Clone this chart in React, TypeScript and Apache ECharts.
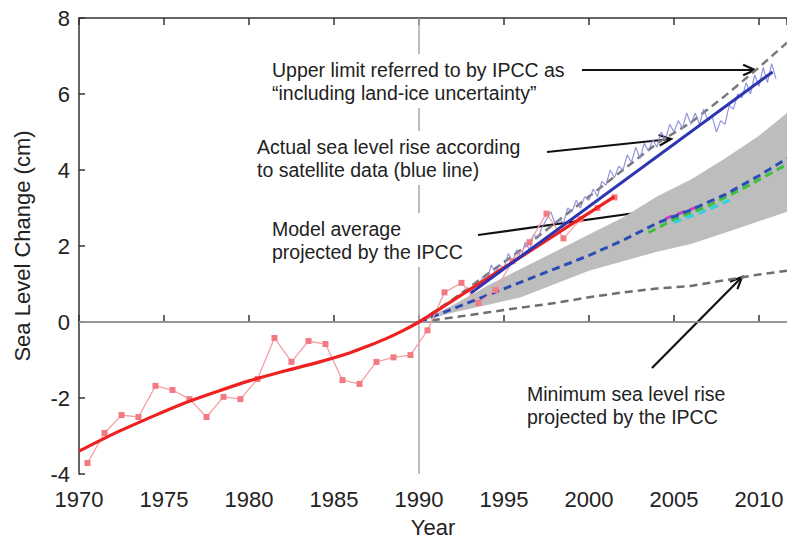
import React, { useEffect, useRef } from "react";
import * as echarts from "echarts";

// Tide-gauge annual values (red squares)
const gaugeYears = [1970.5, 1971.5, 1972.5, 1973.5, 1974.5, 1975.5, 1976.5, 1977.5, 1978.5, 1979.5, 1980.5, 1981.5, 1982.5, 1983.5, 1984.5, 1985.5, 1986.5, 1987.5, 1988.5, 1989.5, 1990.5, 1991.5, 1992.5, 1993.5, 1994.5, 1995.5, 1996.5, 1997.5, 1998.5, 1999.5, 2000.5, 2001.5];
const gaugeVals = [-3.71, -2.92, -2.45, -2.5, -1.68, -1.79, -2.03, -2.5, -1.97, -2.03, -1.5, -0.42, -1.05, -0.5, -0.58, -1.53, -1.63, -1.05, -0.93, -0.87, -0.22, 0.78, 1.03, 0.5, 0.84, 1.6, 2.1, 2.85, 2.2, 2.7, 3.0, 3.28];

// Smoothed tide-gauge curve (red line)
const fitYears = [1970, 1972, 1974, 1976, 1978, 1980, 1982, 1984, 1986, 1987, 1988, 1989, 1990, 1991, 1993, 1995, 1997, 1999, 2001.5];
const fitVals = [-3.4, -2.95, -2.55, -2.17, -1.85, -1.55, -1.3, -1.07, -0.8, -0.63, -0.45, -0.24, 0, 0.28, 0.86, 1.43, 2.0, 2.58, 3.3];

// Satellite altimetry (thin blue)
const satYears = [1993.0, 1993.25, 1993.5, 1993.75, 1994.0, 1994.25, 1994.5, 1994.75, 1995.0, 1995.25, 1995.5, 1995.75, 1996.0, 1996.25, 1996.5, 1996.75, 1997.0, 1997.25, 1997.5, 1997.75, 1998.0, 1998.25, 1998.5, 1998.75, 1999.0, 1999.25, 1999.5, 1999.75, 2000.0, 2000.25, 2000.5, 2000.75, 2001.0, 2001.25, 2001.5, 2001.75, 2002.0, 2002.25, 2002.5, 2002.75, 2003.0, 2003.25, 2003.5, 2003.75, 2004.0, 2004.25, 2004.5, 2004.75, 2005.0, 2005.25, 2005.5, 2005.75, 2006.0, 2006.25, 2006.5, 2006.75, 2007.0, 2007.25, 2007.5, 2007.75, 2008.0, 2008.25, 2008.5, 2008.75, 2009.0, 2009.25, 2009.5, 2009.75, 2010.0, 2010.25, 2010.5, 2010.75, 2011.0];
const satVals = [0.7, 1.0, 0.9, 1.2, 1.1, 1.5, 1.3, 1.5, 1.4, 1.8, 1.6, 1.9, 1.7, 2.1, 1.9, 2.3, 2.2, 2.5, 2.7, 2.9, 2.6, 2.7, 2.6, 3.0, 2.9, 3.2, 3.0, 3.3, 3.2, 3.5, 3.3, 3.7, 3.6, 4.0, 3.8, 4.1, 4.0, 4.4, 4.2, 4.6, 4.3, 4.7, 4.5, 4.8, 4.6, 5.0, 4.8, 5.2, 5.0, 5.3, 5.1, 5.5, 5.2, 5.5, 5.2, 5.6, 5.3, 5.4, 5.0, 5.3, 5.2, 5.7, 5.6, 6.0, 5.9, 6.3, 6.0, 6.5, 6.2, 6.7, 6.3, 6.8, 6.4];

// Satellite linear trend (bold blue)
const trendYears = [1993.05, 2010.8];
const trendVals = [0.76, 6.58];

// IPCC projections
const projYears = [1990, 1992, 1994, 1996, 1998, 2000, 2002, 2004, 2006, 2008, 2010, 2011.65];
const bandLow = [0, 0.25, 0.45, 0.65, 1.0, 1.35, 1.6, 1.85, 2.05, 2.35, 2.65, 2.9];
const bandHigh = [0, 0.45, 0.95, 1.4, 1.85, 2.3, 2.75, 3.3, 3.75, 4.3, 4.9, 5.5];
const modelMean = [0, 0.35, 0.7, 1.05, 1.4, 1.75, 2.15, 2.6, 2.95, 3.35, 3.85, 4.3];
const upperLimit = [0, 0.6, 1.25, 1.9, 2.6, 3.3, 4.0, 4.7, 5.25, 5.95, 6.7, 7.35];
const minimum = [0, 0.12, 0.25, 0.38, 0.5, 0.65, 0.78, 0.88, 0.95, 1.1, 1.25, 1.35];

// Individual model lines near the mean
const greenYears = [2003.5, 2005, 2007, 2009, 2011.65];
const greenVals = [2.35, 2.7, 3.05, 3.5, 4.15];
const cyanYears = [2005, 2007, 2008.5];
const cyanVals = [2.62, 2.95, 3.25];
const magentaYears = [2004.5, 2006.5];
const magentaVals = [2.72, 3.05];

const xTicks = [1970, 1975, 1980, 1985, 1990, 1995, 2000, 2005, 2010];
const yTicks = [-4, -2, 0, 2, 4, 6, 8];

const pairs = (xs: number[], ys: number[]) => xs.map((x, i) => [x, ys[i]]);

const FONT = '"Liberation Sans", Arial, sans-serif';

function arrow(x1: number, y1: number, x2: number, y2: number) {
  const a = Math.atan2(y2 - y1, x2 - x1);
  const L = 13;
  const w = 0.42;
  const p1 = [x2 - L * Math.cos(a - w), y2 - L * Math.sin(a - w)];
  const p2 = [x2 - L * Math.cos(a + w), y2 - L * Math.sin(a + w)];
  return {
    type: "group",
    z: 20,
    children: [
      { type: "line", shape: { x1, y1, x2, y2 }, style: { stroke: "#111", lineWidth: 2.2 } },
      { type: "polyline", shape: { points: [p1, [x2, y2], p2] }, style: { stroke: "#111", lineWidth: 2.2, fill: null } },
    ],
  };
}

function label(text: string, x: number, y: number) {
  return {
    type: "text",
    z: 15,
    x,
    y,
    style: {
      text,
      font: `19.5px ${FONT}`,
      lineHeight: 23,
      fill: "#222",
      verticalAlign: "top",
      align: "left",
      backgroundColor: "#fff",
      padding: [4, 4],
    },
  };
}

export default function App() {
  const ref = useRef<HTMLDivElement>(null);
  useEffect(() => {
    if (!ref.current) return;
    const chart = echarts.init(ref.current, null, { renderer: "svg" });
    const dashed = (name: string, data: number[][], color: string, width: number, z = 3) => ({
      name,
      type: "line",
      data,
      symbol: "none",
      z,
      lineStyle: { color, width, type: [8, 5] },
    });
    chart.setOption({
      animation: false,
      backgroundColor: "#fff",
      grid: { left: 79, top: 18, right: 0, bottom: 64, containLabel: false, outerBoundsMode: "none" },
      xAxis: [
        {
          type: "value",
          min: 1970,
          max: 2011.65,
          interval: 5,
          name: "Year",
          nameLocation: "middle",
          nameGap: 42,
          nameTextStyle: { fontSize: 22, fontFamily: FONT, color: "#222" },
          axisLine: { lineStyle: { color: "#333", width: 1.5 } },
          axisTick: { inside: true, length: 7, lineStyle: { color: "#333", width: 1.5 } },
          axisLabel: {
            fontSize: 22,
            fontFamily: FONT,
            color: "#222",
            margin: 14,
            showMaxLabel: false,
            formatter: (v: number) => (xTicks.includes(v) ? String(v) : ""),
          },
          splitLine: { show: false },
        },
        {
          type: "value",
          position: "top",
          min: 1970,
          max: 2011.65,
          interval: 5,
          axisLine: { lineStyle: { color: "#333", width: 1.5 } },
          axisTick: { inside: true, length: 7, lineStyle: { color: "#333", width: 1.5 } },
          axisLabel: { show: false },
          splitLine: { show: false },
        },
      ],
      yAxis: {
        type: "value",
        min: -4,
        max: 8,
        interval: 2,
        name: "Sea Level Change (cm)",
        nameLocation: "middle",
        nameGap: 46,
        nameTextStyle: { fontSize: 22, fontFamily: FONT, color: "#222" },
        axisLine: { show: true, lineStyle: { color: "#333", width: 1.5 } },
        axisTick: { show: true, inside: true, length: 6, lineStyle: { color: "#333", width: 1.5 } },
        axisLabel: {
          fontSize: 22,
          fontFamily: FONT,
          color: "#222",
          margin: 9,
          formatter: (v: number) => (yTicks.includes(v) ? String(v) : ""),
        },
        splitLine: { show: false },
      },
      series: [
        {
          name: "band",
          type: "custom",
          z: 1,
          data: [[projYears[0], bandLow[0]]],
          renderItem: (_params: any, api: any) => {
            const top = projYears.map((x, i) => api.coord([x, bandHigh[i]]));
            const bottom = projYears.map((x, i) => api.coord([x, bandLow[i]])).reverse();
            return {
              type: "polygon",
              shape: { points: top.concat(bottom) },
              style: { fill: "#bdbdbd", stroke: null },
            };
          },
          markLine: {
            silent: true,
            symbol: "none",
            label: { show: false },
            lineStyle: { color: "#a8a8a8", width: 1.5, type: "solid" },
            data: [{ xAxis: 1990 }, { yAxis: 0 }],
          },
        },
        dashed("minimum", pairs(projYears, minimum), "#6e6e6e", 2.5),
        dashed("upper", pairs(projYears, upperLimit), "#7a7a7a", 2.5),
        dashed("green", pairs(greenYears, greenVals), "#3cc03c", 3),
        dashed("cyan", pairs(cyanYears, cyanVals), "#2fd0e0", 3),
        dashed("magenta", pairs(magentaYears, magentaVals), "#c040c0", 3),
        dashed("mean", pairs(projYears, modelMean), "#2a4cb4", 3, 4),
        {
          name: "satellite",
          type: "line",
          data: pairs(satYears, satVals),
          symbol: "none",
          z: 5,
          lineStyle: { color: "#8a8ad8", width: 1.2, opacity: 0.9 },
        },
        {
          name: "gauge",
          type: "line",
          data: pairs(gaugeYears, gaugeVals),
          symbol: "rect",
          symbolSize: 6,
          z: 5,
          itemStyle: { color: "#f27a82" },
          lineStyle: { color: "#f4a0a6", width: 1.3 },
        },
        {
          name: "fit",
          type: "line",
          data: pairs(fitYears, fitVals),
          symbol: "none",
          smooth: 0.3,
          z: 6,
          lineStyle: { color: "#ee2020", width: 3.2 },
        },
        {
          name: "trend",
          type: "line",
          data: pairs(trendYears, trendVals),
          symbol: "none",
          z: 7,
          lineStyle: { color: "#2b36b0", width: 3 },
        },
      ],
      graphic: [
        label("Upper limit referred to by IPCC as\n\u201Cincluding land-ice uncertainty\u201D", 268, 54),
        label("Actual sea level rise according\nto satellite data (blue line)", 253, 131),
        label("Model average\nprojected by the IPCC", 268, 213),
        label("Minimum sea level rise\nprojected by the IPCC", 523, 378),
        arrow(582, 70, 755, 70),
        arrow(547, 152, 671, 139),
        arrow(478, 235, 671, 208),
        arrow(652, 368, 742, 277),
      ],
    });
    return () => chart.dispose();
  }, []);
  return (
    <div
      ref={ref}
      style={{ position: "fixed", left: 0, top: 0, width: 787, height: 538 }}
    />
  );
}
